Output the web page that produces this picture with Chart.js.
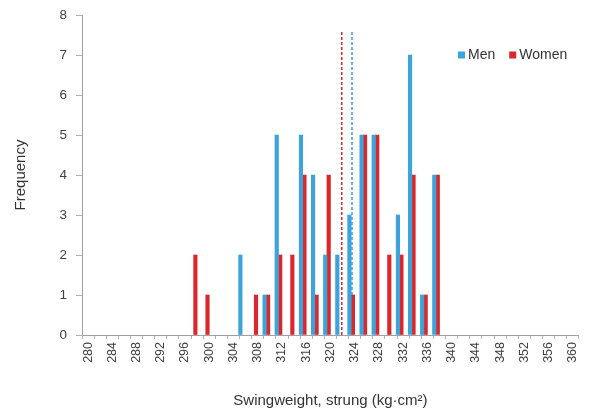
<!DOCTYPE html>
<html>
<head>
<meta charset="utf-8">
<script src="https://cdn.jsdelivr.net/npm/chart.js@4/dist/chart.umd.min.js"></script>
<style>
  body { margin: 0; background: #fff; }
  #wrap { width: 591px; height: 414px; }
</style>
</head>
<body>
<div id="wrap"><canvas id="myChart"></canvas></div>
<script>
// bins of 2 kg·cm², from 280 to 360
const bins = [];
for (let b = 280; b <= 360; b += 2) bins.push(String(b));

// frequency per bin (empty bins left out)
const menCounts = {306: 2, 310: 1, 312: 5, 316: 5, 318: 4, 320: 2, 322: 2, 324: 3, 326: 5, 328: 5, 332: 3, 334: 7, 336: 1, 338: 4};
const womenCounts = {298: 2, 300: 1, 308: 1, 310: 1, 312: 2, 314: 2, 316: 4, 318: 1, 320: 4, 324: 1, 326: 5, 328: 5, 330: 2, 332: 2, 334: 4, 336: 1, 338: 4};

const men = bins.map(b => menCounts[b] ?? null);
const women = bins.map(b => womenCounts[b] ?? null);

// mean swingweight (dashed lines)
const menMean = 324.0;
const womenMean = 322.1;
const meanTop = 7.6;

const blue = '#3ca4db';
const red = '#db272b';
const fontFam = 'Liberation Sans, Arial, sans-serif';

const data = {
  labels: bins,
  datasets: [{
    label: 'Men',
    data: men,
    backgroundColor: blue,
    barThickness: 3.5
  }, {
    label: 'Women',
    data: women,
    backgroundColor: red,
    barThickness: 3.5
  }, {
    type: 'line',
    label: 'womenMean',
    xAxisID: 'xl',
    data: [{x: womenMean, y: 0}, {x: womenMean, y: meanTop}],
    borderColor: red,
    borderWidth: 1.5,
    borderDash: [3, 2],
    pointRadius: 0
  }, {
    type: 'line',
    label: 'menMean',
    xAxisID: 'xl',
    data: [{x: menMean, y: 0}, {x: menMean, y: meanTop}],
    borderColor: blue,
    borderWidth: 1.5,
    borderDash: [3, 2],
    pointRadius: 0
  }]
};

// legend sits inside the plot, top right
const cornerLegend = {
  id: 'cornerLegend',
  afterDraw(chart) {
    const ctx = chart.ctx;
    let x = 458;
    const y = 55;
    ctx.save();
    ctx.font = '14px ' + fontFam;
    ctx.textBaseline = 'middle';
    for (let i = 0; i < 2; i++) {
      const ds = chart.data.datasets[i];
      ctx.fillStyle = ds.backgroundColor;
      ctx.fillRect(x, y - 3.5, 7, 7);
      ctx.fillStyle = '#333';
      ctx.fillText(ds.label, x + 10, y);
      x += 10 + ctx.measureText(ds.label).width + 14;
    }
    ctx.restore();
  }
};

const myChart = new Chart(document.getElementById('myChart'), {
  type: 'bar',
  data: data,
  plugins: [cornerLegend],
  options: {
    responsive: true,
    maintainAspectRatio: false,
    animation: false,
    layout: {padding: {top: 15, right: 12, left: 8, bottom: 0}},
    plugins: {
      legend: {display: false},
      tooltip: {enabled: false}
    },
    scales: {
      x: {
        type: 'category',
        offset: true,
        grid: {drawOnChartArea: false, drawTicks: true, tickLength: 4, color: '#b0b0b0'},
        border: {color: '#a0a0a0'},
        ticks: {
          autoSkip: false,
          minRotation: 90,
          maxRotation: 90,
          color: '#404040',
          font: {family: fontFam, size: 12.5},
          callback: function (v, i) { return i % 2 === 0 ? this.getLabelForValue(v) : ''; }
        },
        title: {
          display: true,
          text: 'Swingweight, strung (kg·cm²)',
          color: '#333',
          font: {family: fontFam, size: 15},
          padding: {top: 8}
        },
        afterFit: s => { s.height = 79; }
      },
      xl: {
        type: 'linear',
        display: false,
        min: 279,
        max: 361
      },
      y: {
        min: 0,
        max: 8,
        ticks: {stepSize: 1, color: '#404040', font: {family: fontFam, size: 13.5}, padding: 9},
        grid: {drawOnChartArea: false, drawTicks: true, tickLength: 6, color: '#b0b0b0'},
        border: {color: '#a0a0a0'},
        title: {
          display: true,
          text: 'Frequency',
          color: '#333',
          font: {family: fontFam, size: 15},
          padding: {top: 4}
        },
        afterFit: s => { s.width = 74; s.paddingTop = 0; }
      }
    }
  }
});
</script>
</body>
</html>
